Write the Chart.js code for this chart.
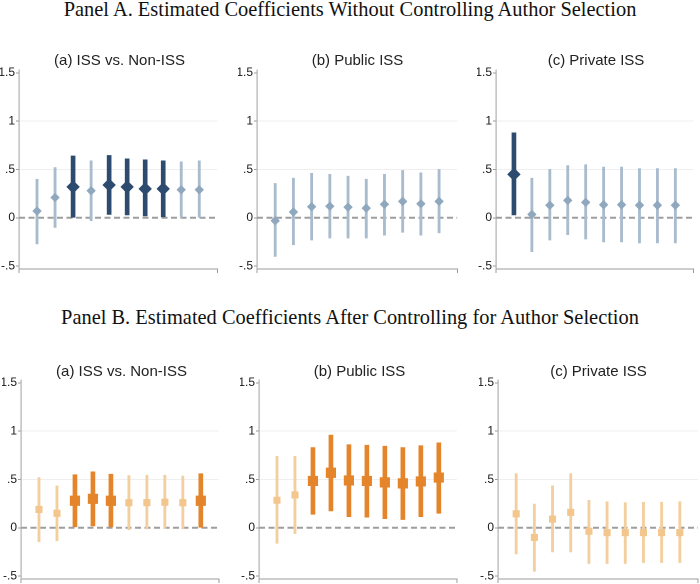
<!DOCTYPE html>
<html><head><meta charset="utf-8">
<script src="https://cdn.jsdelivr.net/npm/chart.js@4"></script>
<style>
html,body{margin:0;padding:0;background:#fff;}
#wrap{position:relative;width:700px;height:584px;overflow:hidden;background:#fff;}
.pt{position:absolute;left:0;width:700px;text-align:center;font-family:"Liberation Serif","Times New Roman",serif;font-size:20.4px;line-height:20px;color:#111;white-space:nowrap;}
.st{position:absolute;width:240px;text-align:center;font-family:"Liberation Sans",Arial,sans-serif;font-size:15px;line-height:15px;color:#222;white-space:nowrap;}
canvas{position:absolute;}
</style></head><body><div id="wrap"></div>
<script>
// ---------- data ----------
const positions = [1,2,3,4,5,6,7,8,9,10];
const yTicks = [-0.5, 0, 0.5, 1, 1.5];
const yTickLabels = ['-.5', '0', '.5', '1', '1.5'];
const panelTitles = [
  'Panel A. Estimated Coefficients Without Controlling Author Selection',
  'Panel B. Estimated Coefficients After Controlling for Author Selection'
];
const subplotTitles = ['(a) ISS vs. Non-ISS', '(b) Public ISS', '(c) Private ISS'];

// Panel A (a) ISS vs. Non-ISS
const aIssCoef = [0.07, 0.21, 0.32, 0.28, 0.34, 0.32, 0.30, 0.30, 0.29, 0.29];
const aIssLo   = [-0.27, -0.10, 0.00, -0.03, 0.035, 0.03, 0.02, 0.01, 0.00, 0.00];
const aIssHi   = [0.40, 0.52, 0.64, 0.59, 0.645, 0.61, 0.60, 0.59, 0.58, 0.59];
const aIssSig  = [0, 0, 1, 0, 1, 1, 1, 1, 0, 0];
// Panel A (b) Public ISS
const aPubCoef = [-0.03, 0.06, 0.115, 0.12, 0.11, 0.10, 0.14, 0.17, 0.145, 0.17];
const aPubLo   = [-0.40, -0.28, -0.23, -0.21, -0.21, -0.21, -0.18, -0.15, -0.18, -0.155];
const aPubHi   = [0.355, 0.41, 0.46, 0.45, 0.43, 0.40, 0.45, 0.49, 0.465, 0.50];
const aPubSig  = [0, 0, 0, 0, 0, 0, 0, 0, 0, 0];
// Panel A (c) Private ISS
const aPriCoef = [0.45, 0.035, 0.13, 0.18, 0.16, 0.135, 0.135, 0.13, 0.13, 0.13];
const aPriLo   = [0.03, -0.35, -0.23, -0.175, -0.22, -0.25, -0.25, -0.26, -0.26, -0.26];
const aPriHi   = [0.88, 0.41, 0.50, 0.54, 0.55, 0.525, 0.525, 0.51, 0.51, 0.51];
const aPriSig  = [1, 0, 0, 0, 0, 0, 0, 0, 0, 0];
// Panel B (a) ISS vs. Non-ISS
const bIssCoef = [0.19, 0.15, 0.28, 0.30, 0.28, 0.26, 0.26, 0.265, 0.26, 0.28];
const bIssLo   = [-0.145, -0.135, 0.01, 0.02, 0.01, -0.02, -0.01, -0.005, -0.01, 0.005];
const bIssHi   = [0.52, 0.435, 0.55, 0.58, 0.555, 0.54, 0.545, 0.545, 0.535, 0.56];
const bIssSig  = [0, 0, 1, 1, 1, 0, 0, 0, 0, 1];
// Panel B (b) Public ISS
const bPubCoef = [0.285, 0.34, 0.485, 0.57, 0.49, 0.485, 0.47, 0.46, 0.48, 0.52];
const bPubLo   = [-0.16, -0.06, 0.14, 0.175, 0.115, 0.11, 0.095, 0.085, 0.115, 0.15];
const bPubHi   = [0.74, 0.74, 0.83, 0.96, 0.86, 0.855, 0.845, 0.83, 0.85, 0.88];
const bPubSig  = [0, 0, 1, 1, 1, 1, 1, 1, 1, 1];
// Panel B (c) Private ISS
const bPriCoef = [0.145, -0.10, 0.09, 0.16, -0.035, -0.05, -0.05, -0.05, -0.05, -0.05];
const bPriLo   = [-0.27, -0.45, -0.25, -0.25, -0.37, -0.37, -0.37, -0.36, -0.36, -0.36];
const bPriHi   = [0.56, 0.245, 0.435, 0.56, 0.285, 0.27, 0.26, 0.265, 0.265, 0.27];
const bPriSig  = [0, 0, 0, 0, 0, 0, 0, 0, 0, 0];

// ---------- styles ----------
const blueStyle = {
  darkLine: '#2c4b6e', darkMark: '#2c4b6e',
  lightLine: '#a9bccd', lightMark: '#8fa8be',
  shape: 'rectRot', darkR: 6.7, lightR: 4.7
};
const orangeStyle = {
  darkLine: '#e4852b', darkMark: '#e4852b',
  lightLine: '#f3cf9f', lightMark: '#f2c68c',
  shape: 'rect', darkR: 7.2, lightR: 5.0
};

const wrap = document.getElementById('wrap');
function addText(cls, text, left, top) {
  const d = document.createElement('div');
  d.className = cls; d.textContent = text;
  d.style.top = top + 'px';
  if (left !== null) d.style.left = left + 'px';
  wrap.appendChild(d);
}
addText('pt', panelTitles[0], null, -1);
addText('pt', panelTitles[1], null, 307);

const YW = 19, PT = 10, PR = 4, PB = 4, XH = 5;

function makeChart(box, coef, lo, hi, sig, style, title, titleTop) {
  const {L, R, T, B} = box;
  const cv = document.createElement('canvas');
  const w = (R - L) + YW + PR, h = (B - T) + PT + XH + PB;
  cv.width = w; cv.height = h;
  cv.style.width = w + 'px'; cv.style.height = h + 'px';
  cv.style.left = (L - YW) + 'px'; cv.style.top = (T - PT) + 'px';
  wrap.appendChild(cv);
  addText('st', title, (L + R) / 2 - 120, titleTop);

  const ci = (flag) => positions.map((p, i) => sig[i] === flag ? {x: p, y: [lo[i], hi[i]]} : null).filter(Boolean);
  const pts = (flag) => positions.map((p, i) => sig[i] === flag ? {x: p, y: coef[i]} : null).filter(Boolean);

  new Chart(cv, {
    type: 'bar',
    data: {
      datasets: [
        {type: 'line', data: [{x: 0, y: 0}, {x: 11, y: 0}], borderColor: '#9e9e9e', borderWidth: 2,
         borderDash: [6, 3.5], pointRadius: 0, order: 6},
        {type: 'bar', data: ci(0), backgroundColor: style.lightLine, barThickness: 2.2, grouped: false, order: 5},
        {type: 'bar', data: ci(1), backgroundColor: style.darkLine, barThickness: 4, grouped: false, order: 4},
        {type: 'scatter', data: pts(0), pointStyle: style.shape, pointRadius: style.lightR,
         backgroundColor: style.lightMark, borderColor: style.lightMark, borderWidth: 0, order: 2},
        {type: 'scatter', data: pts(1), pointStyle: style.shape, pointRadius: style.darkR,
         backgroundColor: style.darkMark, borderColor: style.darkMark, borderWidth: 0, order: 1}
      ]
    },
    options: {
      responsive: false, animation: false, devicePixelRatio: 2,
      layout: {padding: {top: PT, right: PR, bottom: PB, left: 0}},
      plugins: {legend: {display: false}, tooltip: {enabled: false}, title: {display: false}},
      scales: {
        x: {
          type: 'linear', min: 0, max: 11, offset: false,
          afterBuildTicks: (s) => { s.ticks = [{value: 5.5}]; },
          afterFit: (s) => { s.height = XH; },
          ticks: {display: false},
          grid: {drawOnChartArea: false, tickLength: 4, tickColor: '#9a9a9a', tickWidth: 1},
          border: {color: '#9a9a9a', width: 1}
        },
        y: {
          type: 'linear', min: -0.53, max: 1.53,
          afterBuildTicks: (s) => { s.ticks = yTicks.map(v => ({value: v})); },
          afterFit: (s) => { s.width = YW; },
          ticks: {
            callback: (v, i) => yTickLabels[i],
            font: {family: '"Liberation Sans", Arial, sans-serif', size: 12},
            color: '#1a1a1a', padding: 1
          },
          grid: {
            color: (c) => (c.tick && (c.tick.value === 1 || c.tick.value === 0.5)) ? '#efefef' : 'rgba(0,0,0,0)',
            tickColor: '#9a9a9a', tickLength: 3, lineWidth: 1
          },
          border: {color: '#b0b0b0', width: 1.2}
        }
      }
    }
  });
}

const rowA = {T: 70, B: 269};
const rowB = {T: 380, B: 579};
makeChart({L: 19, R: 220, ...rowA}, aIssCoef, aIssLo, aIssHi, aIssSig, blueStyle, subplotTitles[0], 51.6);
makeChart({L: 257, R: 458, ...rowA}, aPubCoef, aPubLo, aPubHi, aPubSig, blueStyle, subplotTitles[1], 51.6);
makeChart({L: 496, R: 696, ...rowA}, aPriCoef, aPriLo, aPriHi, aPriSig, blueStyle, subplotTitles[2], 51.6);
makeChart({L: 21, R: 222, ...rowB}, bIssCoef, bIssLo, bIssHi, bIssSig, orangeStyle, subplotTitles[0], 363);
makeChart({L: 259, R: 460, ...rowB}, bPubCoef, bPubLo, bPubHi, bPubSig, orangeStyle, subplotTitles[1], 363);
makeChart({L: 498, R: 699, ...rowB}, bPriCoef, bPriLo, bPriHi, bPriSig, orangeStyle, subplotTitles[2], 363);
</script></body></html>
